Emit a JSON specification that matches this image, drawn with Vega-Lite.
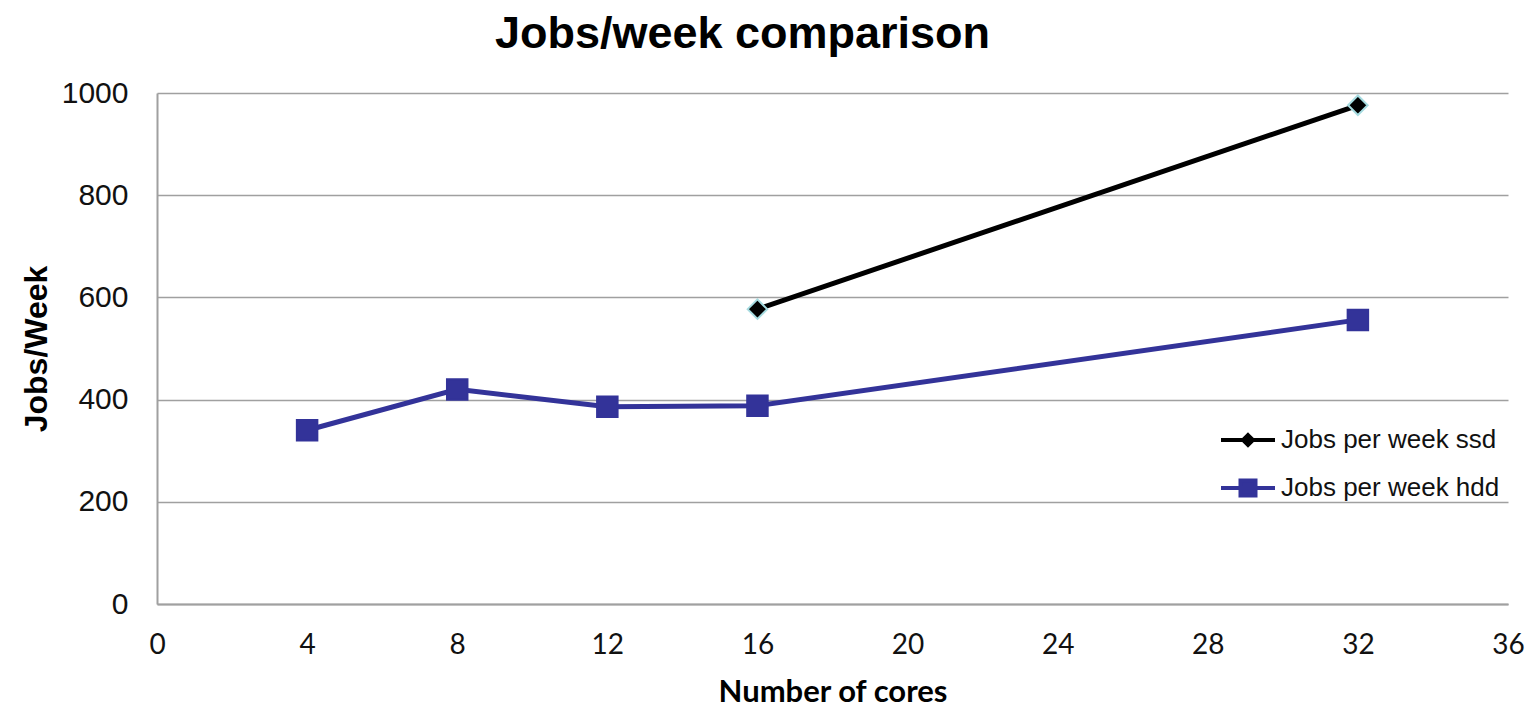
{
  "$schema": "https://vega.github.io/schema/vega-lite/v6.json",
  "width": 1351,
  "height": 511,
  "autosize": {"type": "none"},
  "padding": {"left": 157, "top": 93, "right": 22, "bottom": 106},
  "background": "white",
  "title": {
    "text": "Jobs/week comparison",
    "font": "Liberation Sans",
    "fontSize": 45,
    "fontWeight": "bold",
    "color": "#000000",
    "anchor": "middle",
    "dx": -90,
    "offset": 21
  },
  "data": {
    "values": [
      {"cores": 16, "jobs": 577, "series": "Jobs per week ssd"},
      {"cores": 32, "jobs": 976, "series": "Jobs per week ssd"},
      {"cores": 4, "jobs": 340, "series": "Jobs per week hdd"},
      {"cores": 8, "jobs": 420, "series": "Jobs per week hdd"},
      {"cores": 12, "jobs": 386, "series": "Jobs per week hdd"},
      {"cores": 16, "jobs": 388, "series": "Jobs per week hdd"},
      {"cores": 32, "jobs": 556, "series": "Jobs per week hdd"}
    ]
  },
  "encoding": {
    "x": {
      "field": "cores",
      "type": "quantitative",
      "scale": {"domain": [0, 36], "nice": false, "zero": true},
      "axis": {
        "title": "Number of cores",
        "values": [0, 4, 8, 12, 16, 20, 24, 28, 32, 36],
        "grid": false,
        "ticks": false,
        "domainColor": "#a0a0a0",
        "domainWidth": 2,
        "labelFont": "Lato",
        "labelFontSize": 28,
        "labelColor": "#111111",
        "labelPadding": 27,
        "labelFlush": false,
        "labelOverlap": false,
        "titleFont": "Lato",
        "titleFontSize": 31,
        "titleFontWeight": "bold",
        "titleColor": "#000000",
        "titlePadding": 18
      }
    },
    "y": {
      "field": "jobs",
      "type": "quantitative",
      "scale": {"domain": [0, 1000], "nice": false},
      "axis": {
        "title": "Jobs/Week",
        "values": [0, 200, 400, 600, 800, 1000],
        "format": "d",
        "grid": true,
        "gridColor": "#a0a0a0",
        "gridWidth": 1.5,
        "ticks": false,
        "domainColor": "#a0a0a0",
        "domainWidth": 2,
        "labelFont": "Liberation Sans",
        "labelFontSize": 30,
        "labelColor": "#111111",
        "labelPadding": 29,
        "labelFlush": false,
        "titleFont": "Liberation Sans",
        "titleFontSize": 32,
        "titleFontWeight": "bold",
        "titleColor": "#000000",
        "titlePadding": 8
      }
    }
  },
  "layer": [
    {
      "mark": {"type": "line", "strokeWidth": 5},
      "encoding": {
        "color": {
          "field": "series",
          "type": "nominal",
          "scale": {"domain": ["Jobs per week ssd", "Jobs per week hdd"], "range": ["#000000", "#333399"]},
          "legend": null
        }
      }
    },
    {
      "mark": {"type": "point", "filled": true, "opacity": 1, "strokeWidth": 2},
      "encoding": {
        "color": {
          "field": "series",
          "type": "nominal",
          "scale": {"domain": ["Jobs per week ssd", "Jobs per week hdd"], "range": ["#000000", "#333399"]},
          "legend": null
        },
        "stroke": {
          "field": "series",
          "type": "nominal",
          "scale": {"domain": ["Jobs per week ssd", "Jobs per week hdd"], "range": ["#a6dbe0", "#333399"]},
          "legend": null
        },
        "shape": {
          "field": "series",
          "type": "nominal",
          "scale": {"domain": ["Jobs per week ssd", "Jobs per week hdd"], "range": ["diamond", "square"]},
          "legend": null
        },
        "size": {
          "field": "series",
          "type": "ordinal",
          "scale": {"domain": ["Jobs per week ssd", "Jobs per week hdd"], "range": [380, 420]},
          "legend": null
        }
      }
    },
    {
      "transform": [{"filter": "datum.cores < 0"}],
      "mark": {"type": "point", "filled": true, "opacity": 1, "strokeWidth": 4},
      "encoding": {
        "color": {
          "field": "series",
          "type": "nominal",
          "scale": {"domain": ["Jobs per week ssd", "Jobs per week hdd"], "range": ["#000000", "#333399"]},
          "legend": {
            "title": null,
            "orient": "none",
            "legendX": 1074,
            "legendY": 330,
            "padding": 0,
            "labelFont": "Liberation Sans",
            "labelFontSize": 26,
            "labelColor": "#111111",
            "labelLimit": 400,
            "labelOffset": 16,
            "symbolSize": 900,
            "symbolStrokeWidth": 4,
            "rowPadding": 18
          }
        },
        "stroke": {
          "field": "series",
          "type": "nominal",
          "scale": {"domain": ["Jobs per week ssd", "Jobs per week hdd"], "range": ["#000000", "#333399"]}
        },
        "shape": {
          "field": "series",
          "type": "nominal",
          "scale": {
            "domain": ["Jobs per week ssd", "Jobs per week hdd"],
            "range": [
              "M-1.8,0H1.8M0,-0.33L0.33,0L0,0.33L-0.33,0Z",
              "M-1.8,0H1.8M-0.5,-0.5H0.5V0.5H-0.5Z"
            ]
          }
        }
      }
    }
  ],
  "resolve": {
    "scale": {"color": "independent", "stroke": "independent", "shape": "independent"},
    "legend": {"color": "independent", "stroke": "independent", "shape": "independent"}
  },
  "config": {
    "view": {"stroke": null}
  }
}
